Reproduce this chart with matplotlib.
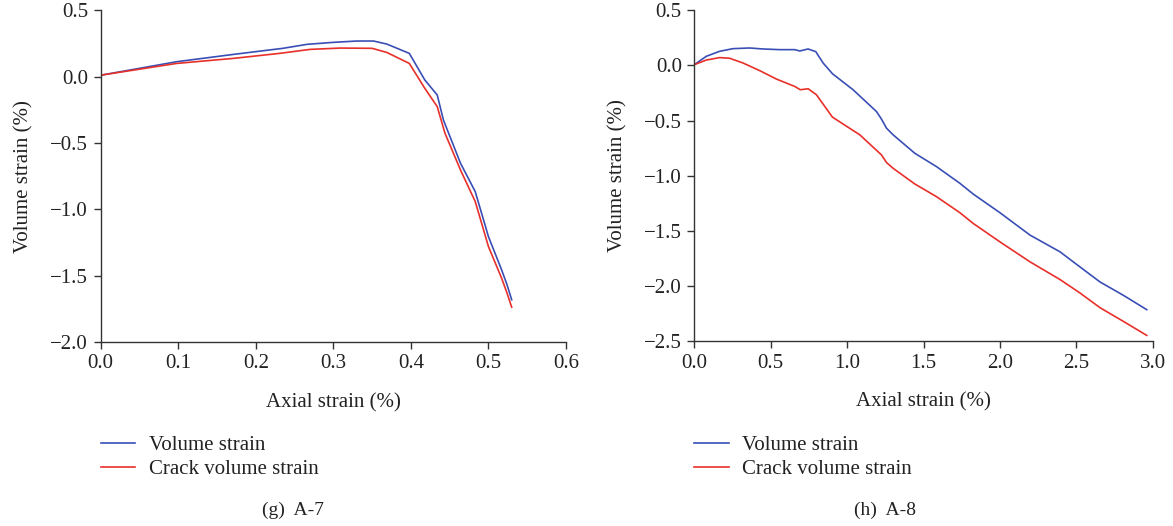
import numpy as np
import matplotlib
matplotlib.use("Agg")
import matplotlib.pyplot as plt

plt.rcParams['font.family'] = ['Liberation Serif', 'DejaVu Serif']

# A-7 specimen
a7_axial_vol = [0.002, 0.098, 0.171, 0.235, 0.266, 0.300, 0.330, 0.352, 0.369, 0.398,
                0.418, 0.434, 0.442, 0.464, 0.483, 0.500, 0.517, 0.524, 0.530]
a7_volume = [0.013, 0.113, 0.168, 0.214, 0.244, 0.259, 0.269, 0.269, 0.246, 0.176,
             -0.025, -0.138, -0.327, -0.653, -0.867, -1.206, -1.457, -1.570, -1.683]
a7_axial_crack = [0.002, 0.098, 0.171, 0.231, 0.270, 0.309, 0.350, 0.369, 0.398,
                  0.418, 0.434, 0.444, 0.464, 0.483, 0.500, 0.517, 0.524, 0.530]
a7_crack = [0.013, 0.100, 0.138, 0.176, 0.206, 0.216, 0.214, 0.183, 0.100,
            -0.088, -0.226, -0.427, -0.704, -0.942, -1.281, -1.520, -1.633, -1.739]

# A-8 specimen
a8_axial_vol = [0.0, 0.079, 0.166, 0.253, 0.362, 0.45, 0.559, 0.657, 0.69, 0.745, 0.795,
                0.843, 0.904, 1.039, 1.192, 1.225, 1.258, 1.301, 1.443, 1.585, 1.738,
                1.825, 2.0, 2.197, 2.393, 2.524, 2.655, 2.808, 2.961]
a8_volume = [0.006, 0.082, 0.127, 0.151, 0.157, 0.148, 0.142, 0.142, 0.130, 0.148, 0.124,
             0.021, -0.076, -0.221, -0.418, -0.487, -0.569, -0.629, -0.796, -0.917, -1.068,
             -1.165, -1.334, -1.537, -1.688, -1.825, -1.961, -2.082, -2.212]
a8_axial_crack = [0.0, 0.079, 0.166, 0.231, 0.319, 0.428, 0.537, 0.657, 0.694, 0.745,
                  0.799, 0.904, 1.083, 1.225, 1.258, 1.301, 1.443, 1.585, 1.738, 1.825,
                  2.0, 2.197, 2.393, 2.524, 2.655, 2.808, 2.961]
a8_crack = [0.006, 0.048, 0.070, 0.064, 0.021, -0.048, -0.124, -0.191, -0.221, -0.212,
            -0.266, -0.469, -0.629, -0.811, -0.880, -0.932, -1.074, -1.189, -1.334, -1.431,
            -1.598, -1.779, -1.939, -2.061, -2.194, -2.318, -2.445]

BLUE = '#3a4fb5'
RED = '#e8302a'
FS = 15


def style_axes(ax, xticks, yticks):
    for side in ['top', 'right']:
        ax.spines[side].set_visible(False)
    for side in ['left', 'bottom']:
        ax.spines[side].set_color('#333333')
        ax.spines[side].set_linewidth(1.0)
    ax.set_xticks(xticks)
    ax.set_yticks(yticks)
    ax.set_xticklabels(['%.1f' % t for t in xticks])
    ax.set_yticklabels([('%.1f' % t).replace('-', '\u2212') for t in yticks])
    ax.tick_params(direction='out', length=5, width=1.0, color='#333333',
                   labelsize=FS, labelcolor='#222222', pad=4)
    ax.set_xlim(xticks[0], xticks[-1])
    ax.set_ylim(yticks[0], yticks[-1])
    ax.set_xlabel('Axial strain (%)', fontsize=FS, color='#222222', labelpad=14)
    ax.set_ylabel('Volume strain (%)', fontsize=FS, color='#222222', labelpad=12)
    leg = ax.legend(loc='upper left', bbox_to_anchor=(-0.0, -0.283), frameon=False,
                    fontsize=FS, handlelength=1.65, handletextpad=0.65,
                    labelspacing=0.22, borderaxespad=0, borderpad=0)
    for t in leg.get_texts():
        t.set_color('#222222')


fig = plt.figure(figsize=(11.73, 5.26), dpi=100)

ax1 = fig.add_axes([0.0858, 0.3502, 0.3967, 0.630])
ax1.plot(a7_axial_vol, a7_volume, color=BLUE, lw=1.2, label='Volume strain')
ax1.plot(a7_axial_crack, a7_crack, color=RED, lw=1.2, label='Crack volume strain')
style_axes(ax1, np.arange(0, 0.61, 0.1), np.arange(-2.0, 0.51, 0.5))

ax2 = fig.add_axes([0.5919, 0.3508, 0.3908, 0.630])
ax2.plot(a8_axial_vol, a8_volume, color=BLUE, lw=1.2, label='Volume strain')
ax2.plot(a8_axial_crack, a8_crack, color=RED, lw=1.2, label='Crack volume strain')
style_axes(ax2, np.arange(0, 3.01, 0.5), np.arange(-2.5, 0.51, 0.5))

fig.text(293 / 1173, 1 - 510 / 526, '(g)  A-7', ha='center', va='center',
         fontsize=14, color='#222222')
fig.text(885 / 1173, 1 - 510 / 526, '(h)  A-8', ha='center', va='center',
         fontsize=14, color='#222222')

fig.savefig('out.png', dpi=100)
